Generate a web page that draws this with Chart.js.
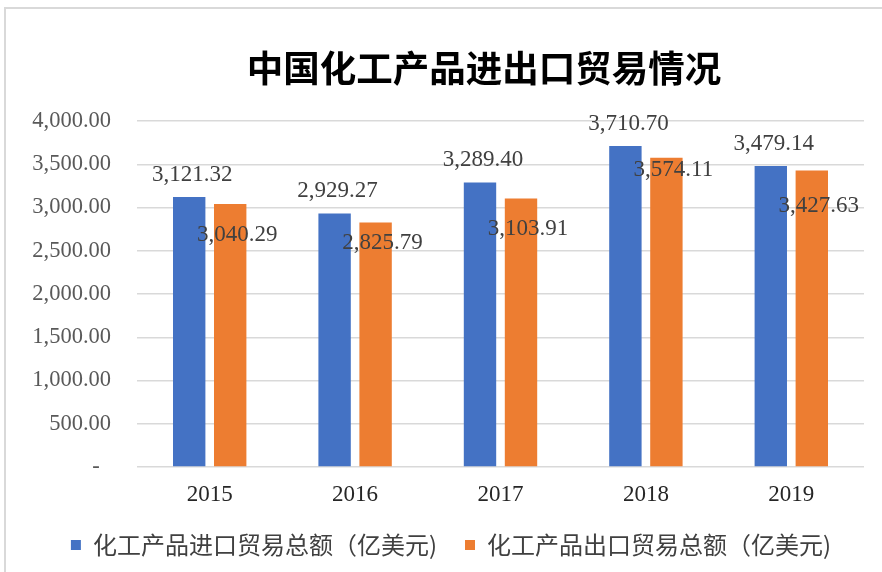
<!DOCTYPE html>
<html>
<head>
<meta charset="utf-8">
<script src="https://cdn.jsdelivr.net/npm/chart.js@4"></script>
<style>
  html, body { margin: 0; padding: 0; background: #fff; }
  #wrap { position: relative; width: 882px; height: 572px; }
  #frame { position: absolute; left: 4px; top: 7px; right: -10px; bottom: -10px;
           border-top: 2px solid #d9d9d9; border-left: 2px solid #d9d9d9; pointer-events: none; }
</style>
</head>
<body>
<div id="wrap">
  <canvas id="c" width="882" height="572"></canvas>
  <div id="frame"></div>
</div>
<script>
const titleText = '中国化工产品进出口贸易情况';
const years = ['2015', '2016', '2017', '2018', '2019'];
const importValues = [3121.32, 2929.27, 3289.40, 3710.70, 3479.14];
const exportValues = [3040.29, 2825.79, 3103.91, 3574.11, 3427.63];
const importLabel = '化工产品进口贸易总额（亿美元)';
const exportLabel = '化工产品出口贸易总额（亿美元)';

const fmt = v => v.toLocaleString('en-US', {minimumFractionDigits: 2, maximumFractionDigits: 2});

const titlePlugin = {
  id: 'customTitle',
  afterLayout(chart) {
    // let tick labels extend beyond their axis boxes without being clipped
    chart.scales.x.bottom = chart.height;
    chart.scales.y.left = 0;
  },
  afterDraw(chart) {
    const ctx = chart.ctx;
    ctx.save();
    ctx.font = 'bold 36.5px "Noto Sans CJK SC"';
    ctx.fillStyle = '#000000';
    ctx.textAlign = 'center';
    ctx.textBaseline = 'middle';
    ctx.fillText(titleText, 484, 68);
    ctx.restore();
  }
};

const labelPlugin = {
  id: 'barLabels',
  afterDatasetsDraw(chart, args, opts) {
    const ctx = chart.ctx;
    ctx.save();
    ctx.font = '23px "Liberation Serif"';
    ctx.fillStyle = '#404040';
    ctx.textAlign = 'center';
    ctx.textBaseline = 'middle';
    chart.data.datasets.forEach((ds, di) => {
      const meta = chart.getDatasetMeta(di);
      const off = opts.offsets[di];
      meta.data.forEach((bar, i) => {
        ctx.fillText(fmt(ds.data[i]), bar.x + off.dx, bar.y + off.dy[i]);
      });
    });
    ctx.restore();
  }
};

new Chart(document.getElementById('c'), {
  type: 'bar',
  data: {
    labels: years,
    datasets: [
      { label: importLabel, data: importValues, backgroundColor: '#4472C4', borderWidth: 0 },
      { label: exportLabel, data: exportValues, backgroundColor: '#ED7D31', borderWidth: 0 }
    ]
  },
  options: {
    responsive: false,
    animation: false,
    events: [],
    datasets: { bar: { categoryPercentage: 0.564, barPercentage: 0.79 } },
    layout: { padding: { top: 121, right: 18, left: 38, bottom: 5 } },
    scales: {
      x: {
        grid: { display: false, drawTicks: false },
        border: { display: false },
        ticks: { font: { family: 'Liberation Serif', size: 23 }, color: '#262626', padding: 14 },
        afterFit(s) { s.height = 38; }
      },
      y: {
        min: 0, max: 4000,
        grid: { color: '#d9d9d9', lineWidth: 1.5, drawTicks: false },
        border: { display: false },
        ticks: {
          stepSize: 500,
          font: { family: 'Liberation Serif', size: 22.5 },
          color: '#595959',
          padding: 26,
          callback: v => v === 0 ? '-  ' : fmt(v)
        },
        afterFit(s) { s.width = 99; }
      }
    },
    plugins: {
      title: { display: false },
      tooltip: { enabled: false },
      legend: {
        position: 'bottom',
        labels: {
          boxWidth: 10, boxHeight: 10,
          font: { family: 'Noto Sans CJK SC', size: 24 },
          color: '#404040',
          padding: 28
        }
      },
      barLabels: {
        offsets: [
          { dx: 3, dy: [-22, -23, -23, -22, -22] },
          { dx: 7, dy: [31, 20, 30, 12, 35] }
        ]
      }
    }
  },
  plugins: [titlePlugin, labelPlugin]
});
</script>
</body>
</html>
